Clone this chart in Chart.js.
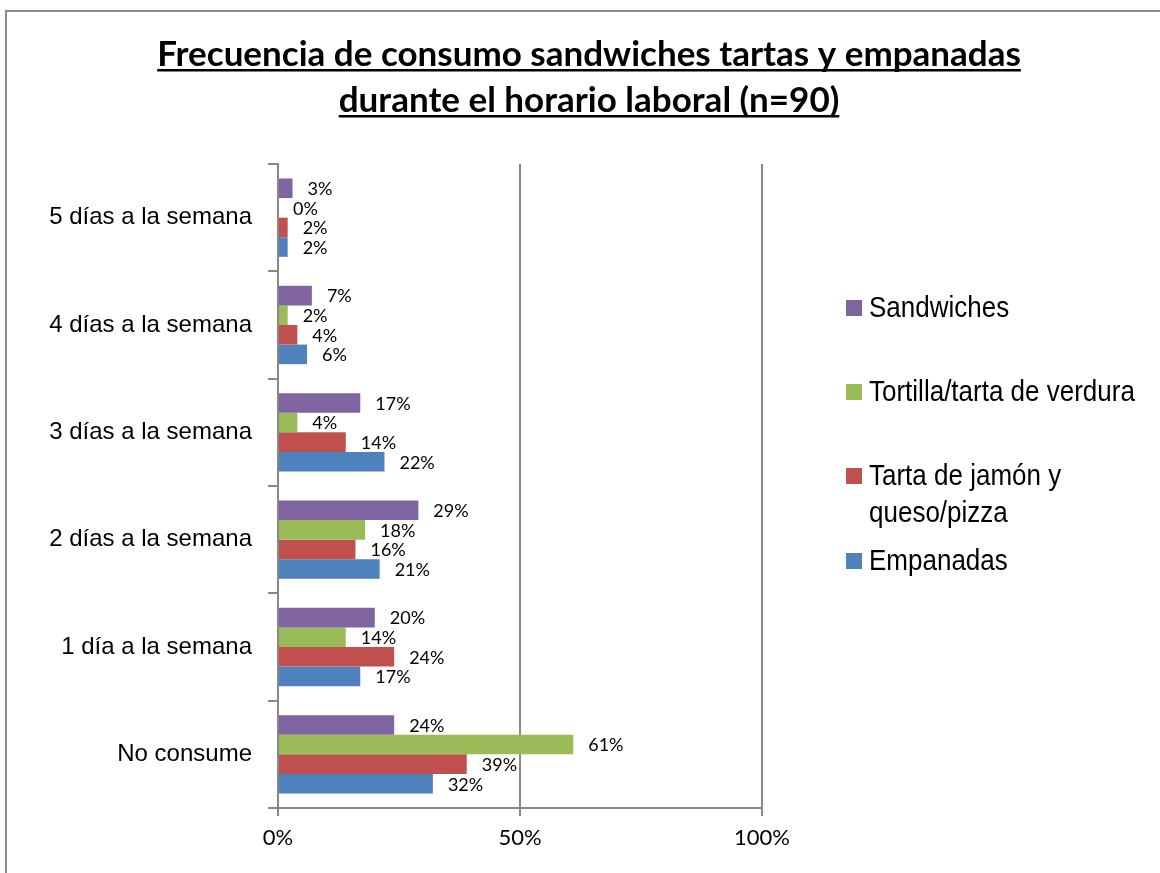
<!DOCTYPE html>
<html>
<head>
<meta charset="utf-8">
<script src="https://cdn.jsdelivr.net/npm/chart.js@4"></script>
<style>
  html, body { margin: 0; padding: 0; background: #fff; }
  canvas { display: block; }
</style>
</head>
<body>
<canvas id="chart" width="1160" height="873"></canvas>
<script>
// ---- data ----
const TITLE_LINES = ['Frecuencia de consumo sandwiches tartas y empanadas', 'durante el horario laboral (n=90)'];
const CATEGORIES  = ['5 días a la semana', '4 días a la semana', '3 días a la semana', '2 días a la semana', '1 día a la semana', 'No consume'];
const SERIES      = ['Sandwiches', 'Tortilla/tarta de verdura', 'Tarta de jamón y queso/pizza', 'Empanadas'];
const SANDWICHES  = [3, 7, 17, 29, 20, 24];
const TORTILLA    = [0, 2, 4, 18, 14, 61];
const TARTA       = [2, 4, 14, 16, 24, 39];
const EMPANADAS   = [2, 6, 22, 21, 17, 32];
const X_TICKS     = [0, 50, 100];

const COLORS = ['#8064A2', '#9BBB59', '#C0504D', '#4F81BD'];
const AXIS = '#888888';
const SANS = '"Liberation Sans", Arial';

// ---- layout ----
const PLOT = { left: 278, right: 762, top: 164, bottom: 808 };
const LEGEND_X = 846, LEGEND_Y = [308, 392, 476, 561], LEGEND_LINE = 37;

// outer frame + title (underlined)
const framePlugin = {
    id: 'frame',
    beforeDraw(chart) {
        const ctx = chart.ctx;
        ctx.save();
        ctx.fillStyle = '#fff';
        ctx.fillRect(0, 0, chart.width, chart.height);
        ctx.strokeStyle = '#8c8c8c';
        ctx.lineWidth = 2;
        ctx.strokeRect(6, 11, 1400, 1200);
        ctx.restore();
    },
    afterDraw(chart) {
        const ctx = chart.ctx;
        ctx.save();
        // fit first line to the reference width
        ctx.font = 'bold 36px Lato';
        const size = 36 * 863 / ctx.measureText(TITLE_LINES[0]).width;
        ctx.font = `bold ${size.toFixed(1)}px Lato`;
        ctx.fillStyle = '#000';
        ctx.textAlign = 'center';
        ctx.textBaseline = 'alphabetic';
        const cx = 589, baselines = [66, 112];
        TITLE_LINES.forEach((line, i) => {
            ctx.fillText(line, cx, baselines[i]);
            const w = ctx.measureText(line).width;
            ctx.fillRect(cx - w / 2, baselines[i] + 3, w, 2.5);
        });
        ctx.restore();
    }
};

// value labels just past each bar end
const valueLabels = {
    id: 'valueLabels',
    afterDatasetsDraw(chart) {
        const ctx = chart.ctx;
        ctx.save();
        ctx.font = '18px Lato';
        ctx.fillStyle = '#000';
        ctx.textAlign = 'left';
        ctx.textBaseline = 'middle';
        chart.data.datasets.forEach((ds, i) => {
            chart.getDatasetMeta(i).data.forEach((bar, j) => {
                ctx.fillText(ds.data[j] + '%', bar.x + 15, bar.y + 1);
            });
        });
        ctx.restore();
    }
};

// legend on the right, with word wrap (text a bit taller, like the original)
const sideLegend = {
    id: 'sideLegend',
    afterDraw(chart) {
        const ctx = chart.ctx;
        const sy = 1.12;
        ctx.save();
        ctx.font = '26px ' + SANS;
        ctx.textBaseline = 'middle';
        ctx.textAlign = 'left';
        chart.data.datasets.forEach((ds, i) => {
            const words = ds.label.split(' ');
            const lines = [];
            let cur = '';
            words.forEach(w => {
                const test = cur ? cur + ' ' + w : w;
                if (ctx.measureText(test).width > 285 && cur) { lines.push(cur); cur = w; }
                else cur = test;
            });
            lines.push(cur);
            const y = LEGEND_Y[i];
            ctx.fillStyle = ds.backgroundColor;
            ctx.fillRect(LEGEND_X, y - 8, 16, 16);
            ctx.fillStyle = '#000';
            lines.forEach((l, k) => {
                ctx.save();
                ctx.translate(LEGEND_X + 23, y + 1 + k * LEGEND_LINE);
                ctx.scale(1, sy);
                ctx.fillText(l, 0, 0);
                ctx.restore();
            });
        });
        ctx.restore();
    }
};

const seriesValues = [SANDWICHES, TORTILLA, TARTA, EMPANADAS];

new Chart(document.getElementById('chart'), {
    type: 'bar',
    data: {
        labels: CATEGORIES,
        datasets: SERIES.map((name, i) => ({
            label: name,
            data: seriesValues[i],
            backgroundColor: COLORS[i],
            borderWidth: 0,
            barPercentage: 1,
            categoryPercentage: 0.73,
        })),
    },
    options: {
        indexAxis: 'y',
        responsive: false,
        animation: false,
        layout: { padding: { top: PLOT.top, right: 1160 - PLOT.right, bottom: 0, left: 0 } },
        plugins: {
            legend: { display: false },
            title: { display: false },
            tooltip: { enabled: false },
        },
        scales: {
            y: {
                type: 'category',
                afterFit: s => { s.width = PLOT.left; },
                grid: { drawOnChartArea: false, drawTicks: true, tickLength: 10, color: AXIS, lineWidth: 2 },
                border: { display: true, color: AXIS, width: 2 },
                ticks: { color: '#000', padding: 16, font: { family: SANS, size: 24 } },
            },
            x: {
                min: X_TICKS[0],
                max: X_TICKS[X_TICKS.length - 1],
                afterFit: s => { s.height = 873 - PLOT.bottom; },
                afterBuildTicks: s => { s.ticks = X_TICKS.map(v => ({ value: v })); },
                grid: { drawOnChartArea: true, drawTicks: true, tickLength: 8, color: AXIS, lineWidth: 2 },
                border: { display: true, color: AXIS, width: 2 },
                ticks: { color: '#000', padding: 9, font: { family: 'Lato', size: 22 },
                         callback: v => v + '%' },
            },
        },
    },
    plugins: [framePlugin, valueLabels, sideLegend],
});
</script>
</body>
</html>
